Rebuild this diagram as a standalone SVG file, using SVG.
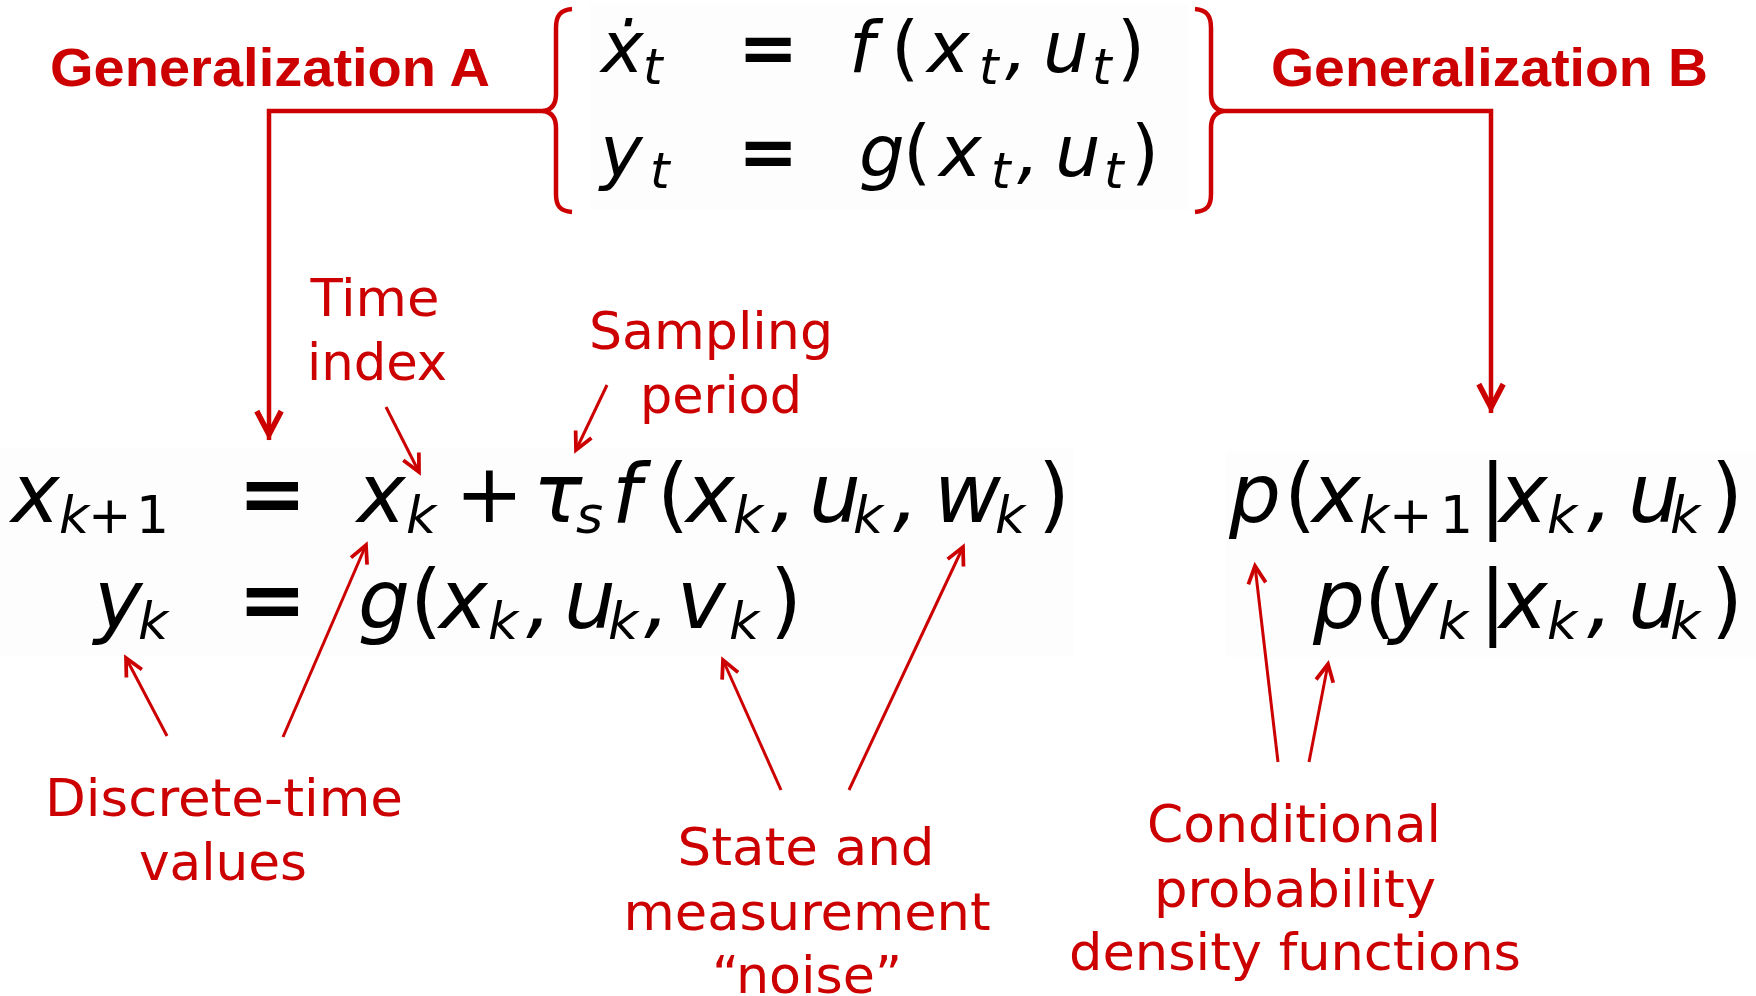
<svg xmlns="http://www.w3.org/2000/svg" width="1756" height="996" viewBox="0 0 1756 996">
<style>
.m{font-family:"DejaVu Sans",Verdana,sans-serif;fill:#000}
.i{font-style:italic}
.T{font-size:72px}
.L{font-size:82px}
.s{font-size:52px}
.ts{font-size:50px}
.eq{font-weight:bold}
.lbl{font-family:"DejaVu Sans Condensed","DejaVu Sans",sans-serif;font-size:52px;fill:#cc0000;text-anchor:middle}
.gen{font-family:"Liberation Sans",Arial,sans-serif;font-weight:bold;font-size:54px;fill:#cc0000}
.thick{fill:none;stroke:#cc0000;stroke-width:4.5}
.thin{fill:none;stroke:#cc0000;stroke-width:3;marker-end:url(#ah)}
.bg{fill:#fdfdfd}
</style>
<defs>
<marker id="ah" markerUnits="userSpaceOnUse" orient="auto" markerWidth="30" markerHeight="30" viewBox="-20 -10 24 20" refX="0" refY="0">
<path d="M-14,-7 L0,0 L-14,7" fill="none" stroke="#cc0000" stroke-width="3"/>
</marker>
<marker id="AH" markerUnits="userSpaceOnUse" orient="auto" markerWidth="40" markerHeight="40" viewBox="-30 -16 36 32" refX="0" refY="0">
<path d="M-26,-11 L-5,0 L-26,11" fill="none" stroke="#cc0000" stroke-width="5" stroke-miterlimit="10"/>
</marker>
</defs>
<rect x="0" y="0" width="1756" height="996" fill="#fff"/>
<g id="backgrounds">
<rect class="bg" x="590" y="4" width="598" height="206"/>
<rect class="bg" x="0" y="448" width="1074" height="208"/>
<rect class="bg" x="1226" y="452" width="530" height="205"/>
</g>
<g id="continuous-model">
<text class="m T"><tspan class="i" x="601" y="72">ẋ</tspan><tspan class="i ts" x="643" y="84">t</tspan><tspan class="eq" x="738" y="72">=</tspan><tspan class="i" x="849" y="72">f</tspan><tspan x="891" y="72">(</tspan><tspan class="i" x="927" y="72">x</tspan><tspan class="i ts" x="979" y="84">t</tspan><tspan class="i" x="1005" y="72">,</tspan><tspan class="i" x="1043" y="72">u</tspan><tspan class="i ts" x="1092" y="84">t</tspan><tspan x="1117" y="72">)</tspan></text>
<text class="m T"><tspan class="i" x="600" y="176">y</tspan><tspan class="i ts" x="650" y="188">t</tspan><tspan class="eq" x="738" y="176">=</tspan><tspan class="i" x="859" y="176">g</tspan><tspan x="903" y="176">(</tspan><tspan class="i" x="939" y="176">x</tspan><tspan class="i ts" x="991" y="188">t</tspan><tspan class="i" x="1017" y="176">,</tspan><tspan class="i" x="1055" y="176">u</tspan><tspan class="i ts" x="1104" y="188">t</tspan><tspan x="1131" y="176">)</tspan></text>
</g>
<g id="discrete-model">
<text class="m L"><tspan class="i" x="11" y="522">x</tspan><tspan class="i s" x="59" y="533">k</tspan><tspan class="s" x="88" y="533">+</tspan><tspan class="s" x="136" y="533">1</tspan><tspan class="eq" x="238" y="522">=</tspan><tspan class="i" x="357" y="522">x</tspan><tspan class="i s" x="406" y="533">k</tspan><tspan x="455" y="522">+</tspan><tspan class="i" x="533" y="522">τ</tspan><tspan class="i s" x="576" y="533">s</tspan><tspan class="i" x="612" y="522">f</tspan><tspan x="657" y="522">(</tspan><tspan class="i" x="686" y="522">x</tspan><tspan class="i s" x="733" y="533">k</tspan><tspan class="i" x="771" y="522">,</tspan><tspan class="i" x="809" y="522">u</tspan><tspan class="i s" x="853" y="533">k</tspan><tspan class="i" x="893" y="522">,</tspan><tspan class="i" x="934" y="522">w</tspan><tspan class="i s" x="995" y="533">k</tspan><tspan x="1038" y="522">)</tspan></text>
<text class="m L"><tspan class="i" x="94" y="628">y</tspan><tspan class="i s" x="138" y="639">k</tspan><tspan class="eq" x="238" y="628">=</tspan><tspan class="i" x="358" y="628">g</tspan><tspan x="410" y="628">(</tspan><tspan class="i" x="439" y="628">x</tspan><tspan class="i s" x="488" y="639">k</tspan><tspan class="i" x="526" y="628">,</tspan><tspan class="i" x="564" y="628">u</tspan><tspan class="i s" x="608" y="639">k</tspan><tspan class="i" x="644" y="628">,</tspan><tspan class="i" x="677" y="628">v</tspan><tspan class="i s" x="729" y="639">k</tspan><tspan x="770" y="628">)</tspan></text>
</g>
<g id="probabilistic-model">
<text class="m L"><tspan class="i" x="1229" y="522">p</tspan><tspan x="1284" y="522">(</tspan><tspan class="i" x="1312" y="522">x</tspan><tspan class="i s" x="1359" y="533">k</tspan><tspan class="s" x="1389" y="533">+</tspan><tspan class="s" x="1440" y="533">1</tspan><tspan x="1479" y="522">|</tspan><tspan class="i" x="1499" y="522">x</tspan><tspan class="i s" x="1547" y="533">k</tspan><tspan class="i" x="1587" y="522">,</tspan><tspan class="i" x="1628" y="522">u</tspan><tspan class="i s" x="1670" y="533">k</tspan><tspan x="1711" y="522">)</tspan></text>
<text class="m L"><tspan class="i" x="1313" y="628">p</tspan><tspan x="1364" y="628">(</tspan><tspan class="i" x="1389" y="628">y</tspan><tspan class="i s" x="1438" y="639">k</tspan><tspan x="1479" y="628">|</tspan><tspan class="i" x="1499" y="628">x</tspan><tspan class="i s" x="1547" y="639">k</tspan><tspan class="i" x="1587" y="628">,</tspan><tspan class="i" x="1628" y="628">u</tspan><tspan class="i s" x="1670" y="639">k</tspan><tspan x="1711" y="628">)</tspan></text>
</g>
<g id="generalization-a">
<text class="gen" x="50" y="86" textLength="440" lengthAdjust="spacingAndGlyphs">Generalization A</text>
</g>
<g id="generalization-b">
<text class="gen" x="1271" y="86" textLength="437" lengthAdjust="spacingAndGlyphs">Generalization B</text>
</g>
<g id="label-time-index">
<text class="lbl" x="375" y="316" textLength="129" lengthAdjust="spacingAndGlyphs">Time</text>
<text class="lbl" x="377" y="380" textLength="140" lengthAdjust="spacingAndGlyphs">index</text>
</g>
<g id="label-sampling-period">
<text class="lbl" x="711" y="349" textLength="244" lengthAdjust="spacingAndGlyphs">Sampling</text>
<text class="lbl" x="721" y="413" textLength="162" lengthAdjust="spacingAndGlyphs">period</text>
</g>
<g id="label-discrete-time">
<text class="lbl" x="224" y="816" textLength="358" lengthAdjust="spacingAndGlyphs">Discrete-time</text>
<text class="lbl" x="223" y="880" textLength="168" lengthAdjust="spacingAndGlyphs">values</text>
</g>
<g id="label-noise">
<text class="lbl" x="806" y="865" textLength="257" lengthAdjust="spacingAndGlyphs">State and</text>
<text class="lbl" x="807" y="930" textLength="367" lengthAdjust="spacingAndGlyphs">measurement</text>
<text class="lbl" x="807" y="993" textLength="190" lengthAdjust="spacingAndGlyphs">“noise”</text>
</g>
<g id="label-pdf">
<text class="lbl" x="1294" y="842" textLength="294" lengthAdjust="spacingAndGlyphs">Conditional</text>
<text class="lbl" x="1295" y="907" textLength="282" lengthAdjust="spacingAndGlyphs">probability</text>
<text class="lbl" x="1295" y="970" textLength="452" lengthAdjust="spacingAndGlyphs">density functions</text>
</g>
<g id="connectors">
<path class="thick" d="M572,9 C560,10 556,16 556,28 L556,94 C556,104 552,110 543,111 C552,112 556,118 556,128 L556,194 C556,206 560,211 572,212"/>
<path class="thick" d="M1195,9 C1207,10 1211,16 1211,28 L1211,94 C1211,104 1215,110 1224,111 C1215,112 1211,118 1211,128 L1211,194 C1211,206 1207,211 1195,212"/>
<path class="thick" d="M544,111 H269 V440" marker-end="url(#AH)"/>
<path class="thick" d="M1224,111 H1491 V413" marker-end="url(#AH)"/>
<line class="thin" x1="386" y1="407" x2="419" y2="472"/>
<line class="thin" x1="607" y1="385" x2="576" y2="450"/>
<line class="thin" x1="167" y1="736" x2="126" y2="658"/>
<line class="thin" x1="283" y1="737" x2="366" y2="545"/>
<line class="thin" x1="781" y1="790" x2="723" y2="660"/>
<line class="thin" x1="849" y1="790" x2="963" y2="547"/>
<line class="thin" x1="1278" y1="762" x2="1255" y2="566"/>
<line class="thin" x1="1309" y1="762" x2="1328" y2="664"/>
</g>
</svg>
